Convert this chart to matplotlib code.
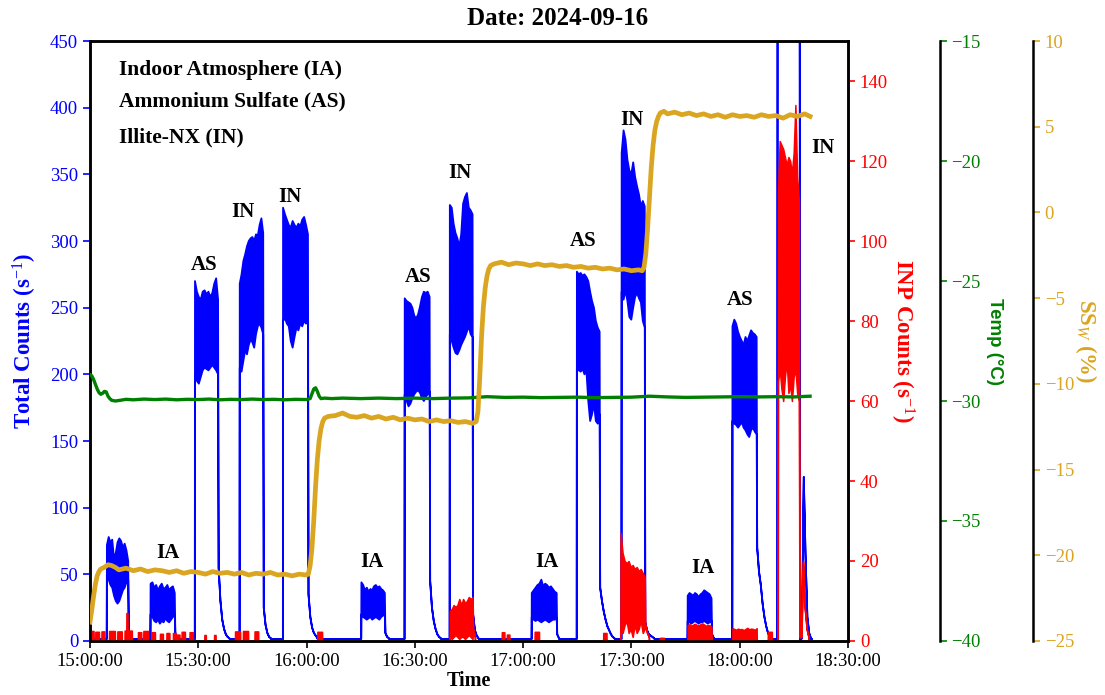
import numpy as np
import matplotlib
matplotlib.use("Agg")
import matplotlib.pyplot as plt

plt.rcParams["font.family"] = ["Liberation Serif", "DejaVu Serif"]
plt.rcParams["mathtext.fontset"] = "custom"
plt.rcParams["mathtext.rm"] = "Liberation Serif"
plt.rcParams["mathtext.it"] = "Liberation Serif:italic"
plt.rcParams["mathtext.bf"] = "Liberation Serif:bold"

# time axis, minutes after 15:00:00
TIME_TICKS = [0, 30, 60, 90, 120, 150, 180, 210]
TIME_LABELS = ["15:00:00", "15:30:00", "16:00:00", "16:30:00",
               "17:00:00", "17:30:00", "18:00:00", "18:30:00"]

# total counts (blue): one entry per sampling block (IA1, IA2, AS1, IN1, IN2, IA3, AS2, IN3, IA4, AS3, IN4, IA5, AS4, IN5)
BLUE_START = [4.7, 16.8, 29.1, 41.5, 53.5, 75.2, 87.2, 99.7, 122.4, 134.9, 147.3, 165.6, 178.0, 190.5]
BLUE_END = [10.6, 23.5, 35.5, 48.0, 60.4, 81.7, 94.1, 106.0, 129.3, 141.2, 153.7, 172.2, 184.7, 196.6]
BLUE_HI = [
    [72, 78, 74, 76, 62, 66, 74, 77, 75, 70, 73, 68, 60],
    [43, 44, 40, 42, 38, 41, 43, 39, 40, 42, 38, 40, 41, 36],
    [270, 262, 258, 256, 262, 263, 260, 262, 258, 261, 268, 272, 256],
    [268, 275, 285, 290, 296, 300, 302, 303, 300, 305, 304, 312, 317, 306],
    [325, 320, 316, 312, 310, 315, 312, 310, 313, 311, 316, 318, 312, 305],
    [44, 42, 38, 40, 37, 39, 38, 41, 42, 40, 41, 39, 38, 36],
    [257, 255, 254, 253, 250, 244, 242, 245, 251, 258, 262, 261, 262, 258],
    [327, 325, 313, 306, 302, 296, 305, 328, 333, 336, 325, 323, 320],
    [36, 38, 40, 42, 43, 46, 41, 43, 42, 40, 41, 39, 37, 36],
    [277, 275, 276, 274, 275, 273, 270, 262, 255, 250, 240, 235, 232],
    [366, 383, 376, 361, 353, 350, 359, 348, 341, 335, 326, 330, 326],
    [34, 36, 35, 34, 36, 35, 33, 35, 36, 38, 37, 36, 35, 32],
    [236, 241, 238, 232, 228, 225, 222, 228, 225, 229, 233, 231, 230, 228],
    [600, 600],
]
BLUE_LO = [
    [50, 46, 42, 40, 34, 30, 28, 30, 34, 38, 40, 44, 46],
    [20, 18, 15, 14, 16, 13, 15, 14, 17, 15, 14, 16, 18, 20],
    [200, 195, 193, 198, 203, 205, 204, 203, 205, 207, 205, 203, 200],
    [205, 202, 210, 218, 215, 222, 226, 224, 220, 230, 236, 238, 235, 230],
    [240, 242, 238, 236, 225, 220, 228, 235, 233, 238, 236, 240, 238, 242],
    [20, 18, 17, 16, 17, 18, 16, 17, 18, 17, 16, 18, 19, 20],
    [185, 180, 176, 178, 182, 185, 187, 188, 186, 182, 180, 183, 185, 187],
    [230, 225, 220, 216, 215, 218, 222, 225, 228, 232, 236, 230, 228],
    [18, 16, 15, 16, 15, 14, 15, 16, 15, 14, 15, 16, 16, 17],
    [205, 203, 202, 204, 200, 203, 180, 165, 170, 178, 165, 163, 170],
    [262, 256, 263, 255, 243, 241, 250, 258, 261, 257, 254, 240, 235],
    [15, 14, 13, 14, 15, 14, 13, 14, 14, 15, 14, 13, 14, 15],
    [165, 163, 162, 160, 162, 164, 160, 158, 155, 153, 158, 160, 157, 155],
    [600, 600],
]
BLUE_TAIL = [
    [8, 3, 1],
    [6, 2, 1],
    [55, 30, 16, 9, 5, 3, 2],
    [25, 12, 6, 3, 2],
    [35, 18, 10, 6, 4, 2],
    [6, 3, 2],
    [45, 25, 15, 9, 5, 3, 2],
    [20, 8, 4, 2],
    [5, 2],
    [40, 30, 22, 16, 11, 8, 5, 3, 2],
    [14, 8, 5, 4, 3, 2],
    [5, 2],
    [70, 52, 42, 28, 18, 11, 6, 3],
    [1, 2, 123, 63, 18, 6, 2],
]

# INP counts (red): main blocks (IN3, IN4, IA5, AS4, IN5)
RED_START = [99.7, 147.0, 165.6, 178.0, 190.6]
RED_END = [106.0, 153.7, 172.2, 184.7, 196.4]
RED_HI = [
    [7.5, 8, 9, 8.5, 9, 10.5, 9, 10.5, 9.5, 10, 11, 10.5, 11],
    [27, 22, 20, 19.5, 20, 18.5, 19, 18, 18.5, 17.5, 18, 17, 16],
    [4, 4.2, 3.8, 4.1, 4.3, 4.0, 3.9, 4.2, 4.4, 4.1, 3.8, 4.0, 3.9, 3.5],
    [3.2, 3.0, 2.8, 3.1, 2.9, 3.0, 2.7, 3.0, 3.3, 2.9, 3.1, 3.0, 2.8, 3.2],
    [112, 125, 124, 123, 121, 119, 121, 120, 117, 122, 134, 116, 110],
]
RED_LO = [
    [1, 0.5, 1, 1.5, 1, 0.5, 1, 1, 0.5, 1, 1.5, 1, 0.5],
    [3, 2, 4, 5, 2, 3, 1, 4, 2, 3, 5, 2, 3],
    [0.5, 0.3, 0.5, 0.4, 0.5, 0.3, 0.5, 0.4, 0.5, 0.3, 0.5, 0.4, 0.5, 0.3],
    [0.4, 0.3, 0.5, 0.4, 0.3, 0.5, 0.4, 0.3, 0.5, 0.4, 0.3, 0.5, 0.4, 0.3],
    [65, 68, 63, 60, 66, 70, 62, 64, 60, 66, 68, 62, 60],
]
RED_TAIL = [[3, 1], [4, 2, 1], [], [], [1, 1, 20, 8, 3, 1]]

# small INP bursts outside the main blocks
RED_BLIP_START = [0.3, 1.5, 3.2, 5.3, 7.6, 9.6, 10.1, 10.5, 13.3, 14.8, 17.0, 19.4, 21.2, 23.0, 24.2,
                  25.4, 27.6, 31.7, 34.4, 40.2, 42.4, 45.6, 63.0, 114.1, 115.5, 123.2, 142.2, 157.9, 187.8]
RED_BLIP_END = [1.0, 2.5, 4.0, 6.9, 8.8, 10.0, 10.4, 11.6, 14.2, 16.1, 18.0, 20.2, 22.0, 23.8, 24.8,
                26.3, 28.5, 32.1, 34.8, 41.6, 43.8, 46.6, 64.3, 114.8, 116.2, 124.4, 143.1, 159.0, 188.9]
RED_BLIP_H = [2.5, 2.3, 2.4, 2.5, 2.4, 2.6, 7.0, 2.6, 2.2, 2.5, 2.2, 1.8, 2.0, 2.0, 1.6,
              2.3, 2.2, 1.5, 1.5, 2.4, 2.5, 2.4, 2.3, 2.2, 1.6, 2.3, 2.0, 0.8, 2.3]

# chamber temperature (green)
TEMP_T = [0, 0.5, 1, 1.5, 2, 2.5, 3, 3.5, 4, 4.5, 5, 5.5, 6, 7, 8, 10, 12, 15, 18, 21, 24, 27, 30,
          33, 36, 39, 42, 45, 48, 51, 54, 57, 60, 61, 61.5, 62, 62.5, 63, 63.5, 64, 65, 67, 70,
          75, 80, 85, 90, 95, 100, 105, 110, 115, 120, 125, 130, 135, 140, 145, 150, 155, 160,
          165, 170, 175, 180, 185, 190, 195, 199.5]
TEMP_V = [-28.9, -28.95, -29.1, -29.3, -29.5, -29.65, -29.72, -29.68, -29.6, -29.62, -29.8, -29.9,
          -29.97, -30.0, -29.98, -29.93, -29.95, -29.92, -29.94, -29.92, -29.95, -29.93, -29.94,
          -29.92, -29.95, -29.93, -29.94, -29.92, -29.94, -29.93, -29.95, -29.93, -29.94, -29.9,
          -29.7, -29.5, -29.45, -29.6, -29.8, -29.9, -29.88, -29.9, -29.88, -29.9, -29.88, -29.9,
          -29.88, -29.9, -29.88, -29.87, -29.82, -29.85, -29.84, -29.86, -29.85, -29.84, -29.86,
          -29.85, -29.84, -29.8, -29.83, -29.85, -29.84, -29.83, -29.82, -29.83, -29.82, -29.83, -29.8]

# water supersaturation (gold)
SS_T = [0, 0.5, 1, 1.5, 2, 2.5, 3, 4, 5, 6, 7, 8, 10, 12, 14, 16, 18, 20, 22, 24, 26, 28, 30, 32,
        34, 36, 38, 40, 42, 44, 46, 48, 50, 52, 54, 56, 58, 60, 60.5, 61, 61.5, 62, 62.5, 63, 63.5,
        64, 64.5, 65, 66, 68, 70, 72, 74, 76, 78, 80, 82, 84, 86, 88, 90, 92, 94, 96, 98, 100, 102,
        104, 106, 107, 107.5, 108, 108.5, 109, 109.5, 110, 110.5, 111, 112, 114, 116, 118, 120, 122,
        124, 126, 128, 130, 132, 134, 136, 138, 140, 142, 144, 146, 148, 150, 152, 153, 153.5, 154,
        154.5, 155, 155.5, 156, 156.5, 157, 157.5, 158, 159, 160, 162, 164, 166, 168, 170, 172, 174,
        176, 178, 180, 182, 184, 186, 188, 190, 192, 194, 196, 198, 199.5]
SS_V = [-23.9, -23.2, -22.4, -21.7, -21.2, -20.95, -20.8, -20.7, -20.55, -20.6, -20.7, -20.85, -20.75,
        -20.9, -20.8, -20.95, -20.85, -20.9, -21.0, -20.9, -21.05, -20.95, -21.0, -21.1, -20.95, -21.05,
        -21.0, -21.1, -21.0, -21.15, -21.05, -21.1, -21.0, -21.15, -21.1, -21.2, -21.1, -21.15, -21.1,
        -20.6, -19.6, -18.0, -16.0, -14.4, -13.3, -12.6, -12.2, -12.0, -11.9, -11.85, -11.7, -11.9,
        -11.95, -11.85, -12.0, -11.9, -12.05, -11.95, -12.1, -12.0, -12.1, -12.05, -12.2, -12.1, -12.2,
        -12.15, -12.25, -12.2, -12.3, -12.2, -11.6, -9.6, -7.2, -5.5, -4.4, -3.7, -3.3, -3.1, -3.0, -2.9,
        -3.05, -2.95, -3.0, -3.1, -3.0, -3.1, -3.05, -3.15, -3.1, -3.2, -3.15, -3.25, -3.2, -3.3, -3.25,
        -3.35, -3.3, -3.4, -3.35, -3.4, -3.2, -2.4, -0.9, 0.9, 2.6, 3.9, 4.8, 5.3, 5.6, 5.8, 5.9, 5.75,
        5.85, 5.7, 5.8, 5.65, 5.75, 5.6, 5.7, 5.55, 5.7, 5.6, 5.65, 5.55, 5.7, 5.6, 5.65, 5.5, 5.7, 5.6,
        5.75, 5.6]

# block annotations
LABEL_TEXT = ["IA", "AS", "IN", "IN", "IA", "AS", "IN", "IA", "AS", "IN", "IA", "AS", "IN"]
LABEL_T = [21.6, 31.6, 42.4, 55.4, 78.0, 90.8, 102.5, 126.6, 136.5, 150.1, 169.8, 180.0, 203.0]
LABEL_Y = [66, 282, 322, 333, 59, 273, 351, 59, 300, 391, 55, 256, 370]

LEGEND_LINES = ["Indoor Atmosphere (IA)", "Ammonium Sulfate (AS)", "Illite-NX (IN)"]
LEGEND_Y = [0.952, 0.900, 0.840]

BLUE_BASE = 1.5
RED_BASE = -1.0
T_END = 200.0
TICK_FS = 13.5


def build_series(segments, base):
    t, lo, hi = [0.0], [base], [base]
    for start, end, seg_hi, seg_lo, tail in segments:
        t.append(start - 0.05); lo.append(base); hi.append(base)
        ts = np.linspace(start, end, len(seg_hi))
        t.extend(ts); hi.extend(seg_hi); lo.extend(seg_lo)
        last = end
        for k, v in enumerate(tail):
            last = end + 0.15 + 0.5 * k
            t.append(last); lo.append(v); hi.append(v)
        t.append(last + 0.05); lo.append(base); hi.append(base)
    t.append(T_END); lo.append(base); hi.append(base)
    return np.array(t), np.array(lo, float), np.array(hi, float)


blue_segs = list(zip(BLUE_START, BLUE_END, BLUE_HI, BLUE_LO, BLUE_TAIL))
red_segs = list(zip(RED_START, RED_END, RED_HI, RED_LO, RED_TAIL))
red_segs += [(s, e, [h, h], [0, 0], []) for s, e, h in zip(RED_BLIP_START, RED_BLIP_END, RED_BLIP_H)]
red_segs.sort(key=lambda s: s[0])

tb, lob, hib = build_series(blue_segs, BLUE_BASE)
tr, lor, hir = build_series(red_segs, RED_BASE)

fig = plt.figure(figsize=(11.05, 6.95), dpi=100)
ax = fig.add_axes([0.0814, 0.0777, 0.686, 0.8633])

ax.fill_between(tb, lob, hib, facecolor="blue", edgecolor="blue", linewidth=1.3)
ax.set_xlim(0, 210)
ax.set_ylim(0, 450)
ax.set_yticks(np.arange(0, 451, 50))
ax.set_xticks(TIME_TICKS)
ax.set_xticklabels(TIME_LABELS)
ax.tick_params(axis="y", colors="blue", labelsize=TICK_FS, length=5, width=1.2)
ax.tick_params(axis="x", colors="black", labelsize=TICK_FS, length=5, width=1.2)
ax.set_ylabel("Total Counts (s$^{-1}$)", color="blue", fontsize=16.5, fontweight="bold", labelpad=8)
ax.set_xlabel("Time", fontsize=14.5, fontweight="bold", labelpad=1)

for txt, t, y in zip(LABEL_TEXT, LABEL_T, LABEL_Y):
    ax.text(t, y, txt, ha="center", va="center", fontsize=15, fontweight="bold")

for line, y in zip(LEGEND_LINES, LEGEND_Y):
    ax.text(0.038, y, line, transform=ax.transAxes, ha="left", va="center",
            fontsize=15.5, fontweight="bold")

# INP counts
ax2 = ax.twinx()
ax2.fill_between(tr, lor, hir, facecolor="red", edgecolor="red", linewidth=1.1)
ax2.set_ylim(0, 150)
ax2.set_yticks(np.arange(0, 141, 20))
ax2.tick_params(axis="y", colors="red", labelsize=TICK_FS, length=5, width=1.2)
ax2.set_ylabel("INP Counts (s$^{-1}$)", color="red", fontsize=16.5, fontweight="bold",
               rotation=-90, labelpad=20)

# temperature
ax3 = ax.twinx()
ax3.spines["right"].set_position(("axes", 1.121))
ax3.plot(TEMP_T, TEMP_V, color="green", linewidth=2.4)
ax3.set_ylim(-40, -15)
ax3.set_yticks(np.arange(-40, -14, 5))
ax3.tick_params(axis="y", colors="green", labelsize=TICK_FS, length=5, width=1.2)
ax3.set_ylabel("Temp (°C)", color="green", fontsize=13.5, fontweight="bold",
               family="Liberation Sans", rotation=-90, labelpad=16)

# supersaturation
ax4 = ax.twinx()
ax4.spines["right"].set_position(("axes", 1.244))
ax4.plot(SS_T, SS_V, color="goldenrod", linewidth=3.4)
ax4.set_ylim(-25, 10)
ax4.set_yticks(np.arange(-25, 11, 5))
ax4.tick_params(axis="y", colors="goldenrod", labelsize=TICK_FS, length=5, width=1.2)
ax4.set_ylabel("SS$_W$ (%)", color="goldenrod", fontsize=16.5, fontweight="bold",
               rotation=-90, labelpad=18)

for a in (ax, ax2, ax3, ax4):
    for sp in a.spines.values():
        sp.set_color("black")
        sp.set_linewidth(1.8)
for a in (ax3, ax4):
    for name in ("left", "top", "bottom"):
        a.spines[name].set_visible(False)

fig.suptitle("Date: 2024-09-16", x=0.505, y=0.99, fontsize=18, fontweight="bold")

fig.savefig("out.png", dpi=100)
